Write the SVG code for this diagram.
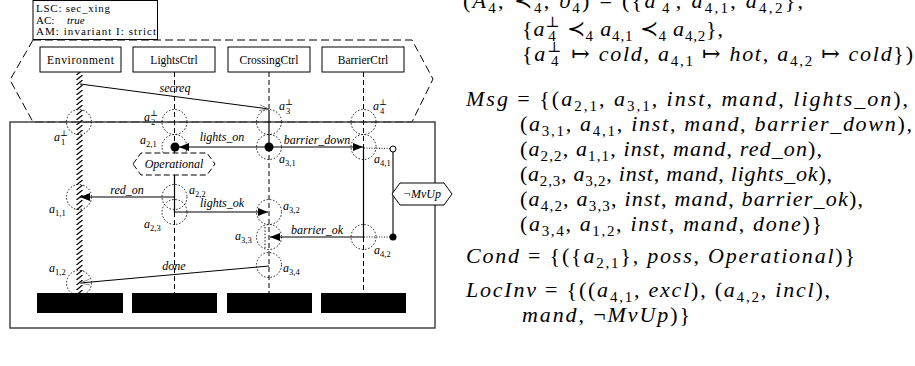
<svg xmlns="http://www.w3.org/2000/svg" width="915" height="366" viewBox="0 0 915 366">
<style>
.bx{fill:#fff;stroke:#000;stroke-width:1}
.ll{stroke:#000;stroke-width:1;stroke-dasharray:5 3;fill:none}
.hot{stroke:#000;stroke-width:1.2;fill:none}
.loc{fill:none;stroke:#000;stroke-width:0.9;stroke-dasharray:1.5 1.8}
.msg{stroke:#000;stroke-width:1.2;fill:none}
.thin{stroke:#000;stroke-width:1;fill:none}
.t{font-family:"Liberation Serif","DejaVu Serif",serif;font-size:11.5px;fill:#000}
.lt{font-family:"Liberation Serif","DejaVu Serif",serif;font-size:11px;fill:#000}
.ml{font-family:"Liberation Serif","DejaVu Serif",serif;font-size:12px;font-style:italic;fill:#000;text-anchor:middle}
.al{font-family:"Liberation Serif","DejaVu Serif",serif;font-size:12px;font-style:italic;fill:#000}
.as{font-size:8.5px;font-style:normal}
.m{font-family:"Liberation Serif","DejaVu Serif",serif;font-size:22px;fill:#000}
.i{font-style:italic}
.s{font-size:15px;font-style:normal}
</style>
<defs>
<pattern id="hatch" patternUnits="userSpaceOnUse" x="75" y="0" width="9" height="5">
<line x1="1.5" y1="5" x2="7.5" y2="0" stroke="#000" stroke-width="1.2"/>
</pattern>
<marker id="ah" viewBox="0 0 10 8" refX="10" refY="4" markerWidth="10" markerHeight="8" markerUnits="userSpaceOnUse" orient="auto">
<path d="M0,0 L10,4 L0,8 z" fill="#000"/>
</marker>
<marker id="oh" viewBox="0 0 10 8" refX="10" refY="4" markerWidth="10" markerHeight="8" markerUnits="userSpaceOnUse" orient="auto">
<path d="M0,1 L10,4 L0,7" fill="none" stroke="#777" stroke-width="0.8"/>
</marker>
</defs>

<g id="lsc-header">
<rect x="33" y="0.5" width="124.5" height="39" class="bx"/>
<text class="lt" x="36" y="12" textLength="74">LSC: sec_xing</text>
<text class="lt" x="36" y="24">AC:<tspan x="67" font-style="italic">true</tspan></text>
<text class="lt" x="36" y="35" textLength="120">AM: invariant I: strict</text>
</g>

<g id="prechart">
<polygon points="33,40 412,40 433,79 412,122 33,122 10,80" fill="none" stroke="#000" stroke-width="1" stroke-dasharray="8 4"/>
</g>

<g id="mainchart">
<rect x="10" y="122" width="425" height="206" fill="none" stroke="#444" stroke-width="1.5"/>
</g>

<g id="inst-environment">
<rect x="40" y="47" width="81" height="25" class="bx"/>
<text class="t" x="80.5" y="63.5" text-anchor="middle" textLength="67">Environment</text>
<rect x="75" y="72" width="9" height="221" fill="url(#hatch)"/>
<rect x="37" y="293" width="86" height="20" fill="#000"/>
</g>
<g id="inst-lightsctrl">
<rect x="133" y="47" width="82" height="25" class="bx"/>
<text class="t" x="174" y="63.5" text-anchor="middle">LightsCtrl</text>
<line x1="174.5" y1="72" x2="174.5" y2="147" class="ll"/>
<line x1="174.5" y1="147" x2="174.5" y2="212" class="hot"/>
<line x1="174.5" y1="212" x2="174.5" y2="293" class="ll"/>
<rect x="132" y="293" width="85" height="20" fill="#000"/>
</g>
<g id="inst-crossingctrl">
<rect x="228" y="47" width="82" height="25" class="bx"/>
<text class="t" x="269" y="63.5" text-anchor="middle">CrossingCtrl</text>
<line x1="269" y1="72" x2="269" y2="110" class="ll"/>
<line x1="269" y1="110" x2="269" y2="147" class="hot"/>
<line x1="269" y1="147" x2="269" y2="293" class="ll"/>
<rect x="227" y="293" width="85" height="20" fill="#000"/>
</g>
<g id="inst-barrierctrl">
<rect x="322" y="47" width="82" height="25" class="bx"/>
<text class="t" x="363" y="63.5" text-anchor="middle">BarrierCtrl</text>
<line x1="363.5" y1="72" x2="363.5" y2="147" class="ll"/>
<line x1="363.5" y1="147" x2="363.5" y2="237" class="hot"/>
<line x1="363.5" y1="237" x2="363.5" y2="293" class="ll"/>
<rect x="321" y="293" width="85" height="20" fill="#000"/>
</g>

<g id="locations">
<circle cx="79" cy="122" r="12.5" class="loc"/>
<circle cx="174.5" cy="122" r="12.5" class="loc"/>
<circle cx="269" cy="122" r="12.5" class="loc"/>
<circle cx="363.5" cy="122" r="12.5" class="loc"/>
<circle cx="174.5" cy="147" r="12.5" class="loc"/>
<circle cx="269" cy="147" r="12.5" class="loc"/>
<circle cx="363.5" cy="147" r="12.5" class="loc"/>
<circle cx="79" cy="197" r="12.5" class="loc"/>
<circle cx="174.5" cy="197" r="12.5" class="loc"/>
<circle cx="174.5" cy="212" r="12.5" class="loc"/>
<circle cx="269" cy="212" r="12.5" class="loc"/>
<circle cx="269" cy="237" r="12.5" class="loc"/>
<line x1="265" y1="227" x2="265" y2="248" class="loc"/>
<circle cx="363.5" cy="237" r="12.5" class="loc"/>
<circle cx="269" cy="265" r="12.5" class="loc"/>
<circle cx="79" cy="283" r="12.5" class="loc"/>
<text class="al" x="54" y="141">a<tspan class="as" dy="-5">⊥</tspan><tspan class="as" dx="-7" dy="9">1</tspan></text>
<text class="al" x="144" y="121">a<tspan class="as" dy="-5">⊥</tspan><tspan class="as" dx="-7" dy="9">2</tspan></text>
<text class="al" x="279" y="110">a<tspan class="as" dy="-5">⊥</tspan><tspan class="as" dx="-7" dy="9">3</tspan></text>
<text class="al" x="373" y="110">a<tspan class="as" dy="-5">⊥</tspan><tspan class="as" dx="-7" dy="9">4</tspan></text>
<text class="al" x="140" y="144">a<tspan class="as" dy="3">2,1</tspan></text>
<text class="al" x="279" y="163">a<tspan class="as" dy="3">3,1</tspan></text>
<text class="al" x="374" y="163">a<tspan class="as" dy="3">4,1</tspan></text>
<text class="al" x="189" y="194">a<tspan class="as" dy="3">2,2</tspan></text>
<text class="al" x="49" y="213">a<tspan class="as" dy="3">1,1</tspan></text>
<text class="al" x="283" y="210">a<tspan class="as" dy="3">3,2</tspan></text>
<text class="al" x="144" y="228">a<tspan class="as" dy="3">2,3</tspan></text>
<text class="al" x="235" y="240">a<tspan class="as" dy="3">3,3</tspan></text>
<text class="al" x="374" y="254">a<tspan class="as" dy="3">4,2</tspan></text>
<text class="al" x="49" y="272">a<tspan class="as" dy="3">1,2</tspan></text>
<text class="al" x="283" y="272">a<tspan class="as" dy="3">3,4</tspan></text>
</g>

<g id="connectors">
<line x1="80" y1="84" x2="269" y2="109" class="thin" marker-end="url(#oh)"/>
<text class="ml" x="175" y="92">secreq</text>
<line x1="269" y1="147" x2="179" y2="147" class="msg" marker-end="url(#ah)"/>
<text class="ml" x="222" y="141">lights_on</text>
<line x1="269" y1="147" x2="363" y2="147" class="msg" marker-end="url(#ah)"/>
<text class="ml" x="317" y="144">barrier_down</text>
<line x1="364" y1="148" x2="390" y2="148.5" stroke="#000" stroke-width="0.9" stroke-dasharray="1 1.5"/>
<line x1="174.5" y1="197" x2="80" y2="197" class="msg" marker-end="url(#ah)"/>
<text class="ml" x="127" y="194">red_on</text>
<line x1="174.5" y1="212" x2="268" y2="212" class="msg" marker-end="url(#ah)"/>
<text class="ml" x="222" y="207">lights_ok</text>
<line x1="363.5" y1="237" x2="270" y2="237" class="msg" marker-end="url(#ah)"/>
<text class="ml" x="317" y="234">barrier_ok</text>
<line x1="364" y1="237" x2="390" y2="237" stroke="#000" stroke-width="0.9" stroke-dasharray="1 1.5"/>
<line x1="269" y1="266" x2="80" y2="283" class="thin" marker-end="url(#oh)"/>
<text class="ml" x="174" y="270">done</text>
<line x1="393" y1="152" x2="393" y2="237" stroke="#444" stroke-width="1.5"/>
<circle cx="175" cy="147" r="4.5" fill="#000"/>
<circle cx="269" cy="147" r="4.5" fill="#000"/>
<circle cx="393" cy="149" r="3" fill="#fff" stroke="#000" stroke-width="1"/>
<circle cx="393" cy="237" r="3.5" fill="#000"/>
</g>

<g id="cond-operational">
<polygon points="133,164 141,153 207,153 215,164 207,175 141,175" fill="#fff" stroke="#000" stroke-width="1" stroke-dasharray="6 3"/>
<text class="ml" x="174" y="168">Operational</text>
</g>
<g id="inv-mvup">
<polygon points="392,194 400,183 444,183 452,194 444,205 400,205" fill="#fff" stroke="#000" stroke-width="1"/>
<text class="ml" x="422" y="198">¬MvUp</text>
</g>

<g id="formal">
<text class="m" x="463" y="8" textLength="340">(<tspan class="i">A</tspan><tspan class="s" dy="5">4</tspan><tspan dy="-5">, ≺</tspan><tspan class="s" dy="5">4</tspan><tspan dy="-5">, </tspan><tspan class="i">ϑ</tspan><tspan class="s" dy="5">4</tspan><tspan dy="-5">) = ({</tspan><tspan class="i">a</tspan><tspan class="s" dy="-9">⊥</tspan><tspan class="s" dx="-12" dy="14">4</tspan><tspan dx="4" dy="-5">, </tspan><tspan class="i">a</tspan><tspan class="s" dy="5">4,1</tspan><tspan dy="-5">, </tspan><tspan class="i">a</tspan><tspan class="s" dy="5">4,2</tspan><tspan dy="-5">},</tspan></text>
<text class="m" x="522" y="36" textLength="201">{<tspan class="i">a</tspan><tspan class="s" dy="-9">⊥</tspan><tspan class="s" dx="-12" dy="14">4</tspan><tspan dx="4" dy="-5"> ≺</tspan><tspan class="s" dy="5">4</tspan><tspan dy="-5"> </tspan><tspan class="i">a</tspan><tspan class="s" dy="5">4,1</tspan><tspan dy="-5"> ≺</tspan><tspan class="s" dy="5">4</tspan><tspan dy="-5"> </tspan><tspan class="i">a</tspan><tspan class="s" dy="5">4,2</tspan><tspan dy="-5">},</tspan></text>
<text class="m" x="522" y="61" textLength="391">{<tspan class="i">a</tspan><tspan class="s" dy="-9">⊥</tspan><tspan class="s" dx="-12" dy="14">4</tspan><tspan dx="4" dy="-5"> ↦ </tspan><tspan class="i">cold</tspan>, <tspan class="i">a</tspan><tspan class="s" dy="5">4,1</tspan><tspan dy="-5"> ↦ </tspan><tspan class="i">hot</tspan>, <tspan class="i">a</tspan><tspan class="s" dy="5">4,2</tspan><tspan dy="-5"> ↦ </tspan><tspan class="i">cold</tspan>})</text>
<text class="m" x="466" y="106" textLength="442"><tspan class="i">Msg</tspan> = {(<tspan class="i">a</tspan><tspan class="s" dy="5">2,1</tspan><tspan dy="-5">, </tspan><tspan class="i">a</tspan><tspan class="s" dy="5">3,1</tspan><tspan dy="-5">, </tspan><tspan class="i">inst</tspan>, <tspan class="i">mand</tspan>, <tspan class="i">lights_on</tspan>),</text>
<text class="m" x="520" y="131" textLength="392">(<tspan class="i">a</tspan><tspan class="s" dy="5">3,1</tspan><tspan dy="-5">, </tspan><tspan class="i">a</tspan><tspan class="s" dy="5">4,1</tspan><tspan dy="-5">, </tspan><tspan class="i">inst</tspan>, <tspan class="i">mand</tspan>, <tspan class="i">barrier_down</tspan>),</text>
<text class="m" x="520" y="156" textLength="302">(<tspan class="i">a</tspan><tspan class="s" dy="5">2,2</tspan><tspan dy="-5">, </tspan><tspan class="i">a</tspan><tspan class="s" dy="5">1,1</tspan><tspan dy="-5">, </tspan><tspan class="i">inst</tspan>, <tspan class="i">mand</tspan>, <tspan class="i">red_on</tspan>),</text>
<text class="m" x="520" y="181" textLength="312">(<tspan class="i">a</tspan><tspan class="s" dy="5">2,3</tspan><tspan dy="-5">, </tspan><tspan class="i">a</tspan><tspan class="s" dy="5">3,2</tspan><tspan dy="-5">, </tspan><tspan class="i">inst</tspan>, <tspan class="i">mand</tspan>, <tspan class="i">lights_ok</tspan>),</text>
<text class="m" x="520" y="206" textLength="343">(<tspan class="i">a</tspan><tspan class="s" dy="5">4,2</tspan><tspan dy="-5">, </tspan><tspan class="i">a</tspan><tspan class="s" dy="5">3,3</tspan><tspan dy="-5">, </tspan><tspan class="i">inst</tspan>, <tspan class="i">mand</tspan>, <tspan class="i">barrier_ok</tspan>),</text>
<text class="m" x="520" y="231" textLength="302">(<tspan class="i">a</tspan><tspan class="s" dy="5">3,4</tspan><tspan dy="-5">, </tspan><tspan class="i">a</tspan><tspan class="s" dy="5">1,2</tspan><tspan dy="-5">, </tspan><tspan class="i">inst</tspan>, <tspan class="i">mand</tspan>, <tspan class="i">done</tspan>)}</text>
<text class="m" x="466" y="263" textLength="389"><tspan class="i">Cond</tspan> = {({<tspan class="i">a</tspan><tspan class="s" dy="5">2,1</tspan><tspan dy="-5">}, </tspan><tspan class="i">poss</tspan>, <tspan class="i">Operational</tspan>)}</text>
<text class="m" x="466" y="297" textLength="364"><tspan class="i">LocInv</tspan> = {((<tspan class="i">a</tspan><tspan class="s" dy="5">4,1</tspan><tspan dy="-5">, </tspan><tspan class="i">excl</tspan>), (<tspan class="i">a</tspan><tspan class="s" dy="5">4,2</tspan><tspan dy="-5">, </tspan><tspan class="i">incl</tspan>),</text>
<text class="m" x="522" y="322" textLength="168"><tspan class="i">mand</tspan>, ¬<tspan class="i">MvUp</tspan>)}</text>
</g>
</svg>
